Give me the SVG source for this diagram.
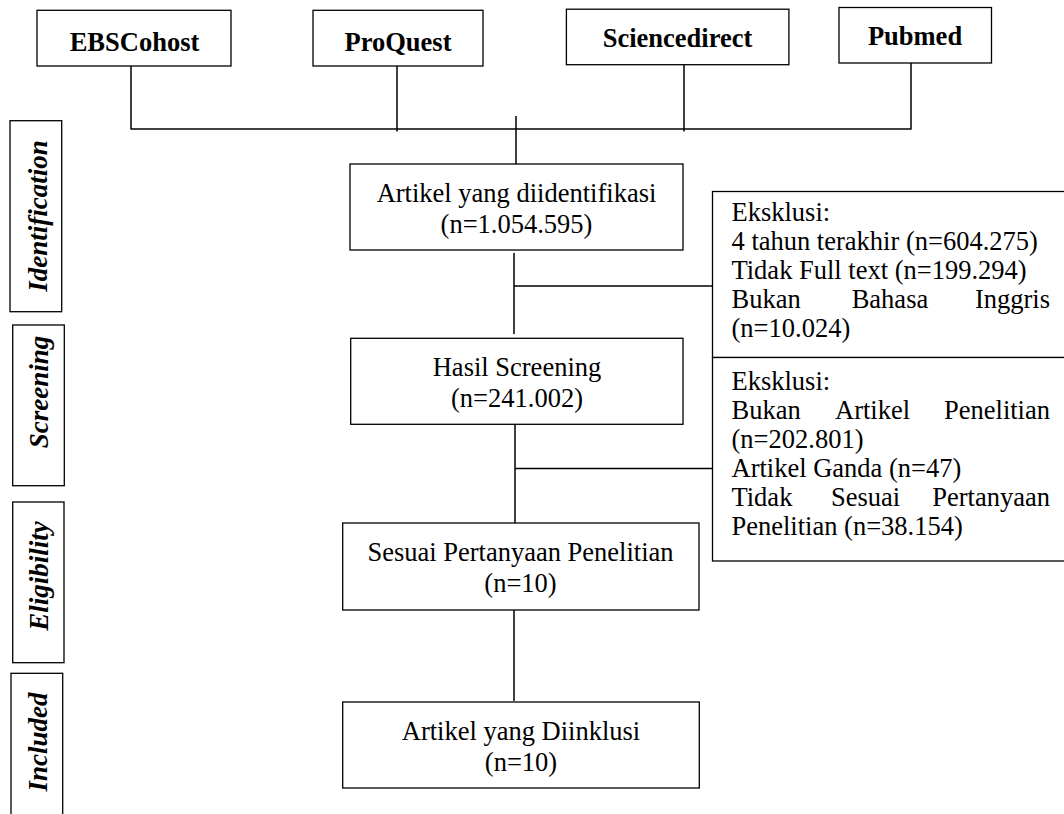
<svg xmlns="http://www.w3.org/2000/svg" width="1064" height="814" viewBox="0 0 1064 814">
<style>
.box{fill:#fff;stroke:#000;stroke-width:1.3}
.ln{fill:none;stroke:#000;stroke-width:1.5}
text{font-family:"Liberation Serif","Times New Roman",serif;font-size:26.5px;fill:#000}
.c{text-anchor:middle}
.b{font-weight:bold}
.lab{font-weight:bold;font-style:italic;font-size:27px;text-anchor:middle}
.e{text-anchor:end}
</style>
<rect width="1064" height="814" fill="#fff"/>
<g id="connectors">
<line class="ln" x1="131" y1="66" x2="131" y2="129.5"/>
<line class="ln" x1="397" y1="66" x2="397" y2="131.5"/>
<line class="ln" x1="684" y1="65" x2="684" y2="131.5"/>
<line class="ln" x1="911" y1="63" x2="911" y2="129.5"/>
<line class="ln" x1="131" y1="129" x2="911" y2="129"/>
<line class="ln" x1="516" y1="116" x2="516" y2="164"/>
<line class="ln" x1="514" y1="253" x2="514" y2="334"/>
<line class="ln" x1="514" y1="286" x2="712" y2="286"/>
<line class="ln" x1="515" y1="420" x2="515" y2="523"/>
<line class="ln" x1="515" y1="468.5" x2="712" y2="468.5"/>
<line class="ln" x1="514" y1="610" x2="514" y2="701"/>
</g>
<g id="ebscohost"><rect class="box" x="37" y="10.3" width="194" height="55.7"/><text class="c b" x="134.5" y="50.5">EBSCohost</text></g>
<g id="proquest"><rect class="box" x="313" y="10.3" width="170" height="55.7"/><text class="c b" x="398" y="50.5">ProQuest</text></g>
<g id="sciencedirect"><rect class="box" x="566.4" y="9.2" width="222.5" height="55.5"/><text class="c b" x="677.5" y="46.7">Sciencedirect</text></g>
<g id="pubmed"><rect class="box" x="839" y="7.5" width="152.5" height="55.5"/><text class="c b" x="915" y="45.3">Pubmed</text></g>
<g id="label-identification"><rect class="box" x="10" y="120.7" width="51.7" height="191"/><text class="lab" transform="translate(46.5,216) rotate(-90)">Identification</text></g>
<g id="label-screening"><rect class="box" x="12.7" y="325" width="51.6" height="160.7"/><text class="lab" transform="translate(47.5,392) rotate(-90)">Screening</text></g>
<g id="label-eligibility"><rect class="box" x="12.7" y="502" width="51.3" height="160.7"/><text class="lab" transform="translate(47.5,576) rotate(-90)">Eligibility</text></g>
<g id="label-included"><rect class="box" x="11" y="673.3" width="51.7" height="160"/><text class="lab" transform="translate(46.5,742) rotate(-90)">Included</text></g>
<g id="identified"><rect class="box" x="350" y="164" width="333" height="86"/><text class="c" x="516.5" y="202">Artikel yang diidentifikasi</text><text class="c" x="516.5" y="233">(n=1.054.595)</text></g>
<g id="screening"><rect class="box" x="350.7" y="338.3" width="332.3" height="86"/><text class="c" x="517" y="375.5">Hasil Screening</text><text class="c" x="517" y="406.5">(n=241.002)</text></g>
<g id="eligible"><rect class="box" x="342.7" y="523" width="356.3" height="87"/><text class="c" x="520.5" y="561">Sesuai Pertanyaan Penelitian</text><text class="c" x="520.5" y="592">(n=10)</text></g>
<g id="included"><rect class="box" x="342.7" y="702" width="356.6" height="86"/><text class="c" x="521" y="740">Artikel yang Diinklusi</text><text class="c" x="521" y="771">(n=10)</text></g>
<g id="exclusion-1"><rect class="box" x="712.5" y="191.5" width="360" height="166"/>
<text x="731.5" y="221">Eksklusi:</text>
<text x="731.5" y="250">4 tahun terakhir (n=604.275)</text>
<text x="731.5" y="279">Tidak Full text (n=199.294)</text>
<text x="731.5" y="308">Bukan</text><text x="851.7" y="308">Bahasa</text><text class="e" x="1050" y="308">Inggris</text>
<text x="731.5" y="337">(n=10.024)</text></g>
<g id="exclusion-2"><rect class="box" x="712.5" y="357.5" width="360" height="203.5"/>
<text x="731.5" y="390">Eksklusi:</text>
<text x="731.5" y="419">Bukan</text><text x="835" y="419">Artikel</text><text class="e" x="1050" y="419">Penelitian</text>
<text x="731.5" y="448">(n=202.801)</text>
<text x="731.5" y="477">Artikel Ganda (n=47)</text>
<text x="731.5" y="506">Tidak</text><text x="831" y="506">Sesuai</text><text class="e" x="1050" y="506">Pertanyaan</text>
<text x="731.5" y="535">Penelitian (n=38.154)</text></g>
</svg>
